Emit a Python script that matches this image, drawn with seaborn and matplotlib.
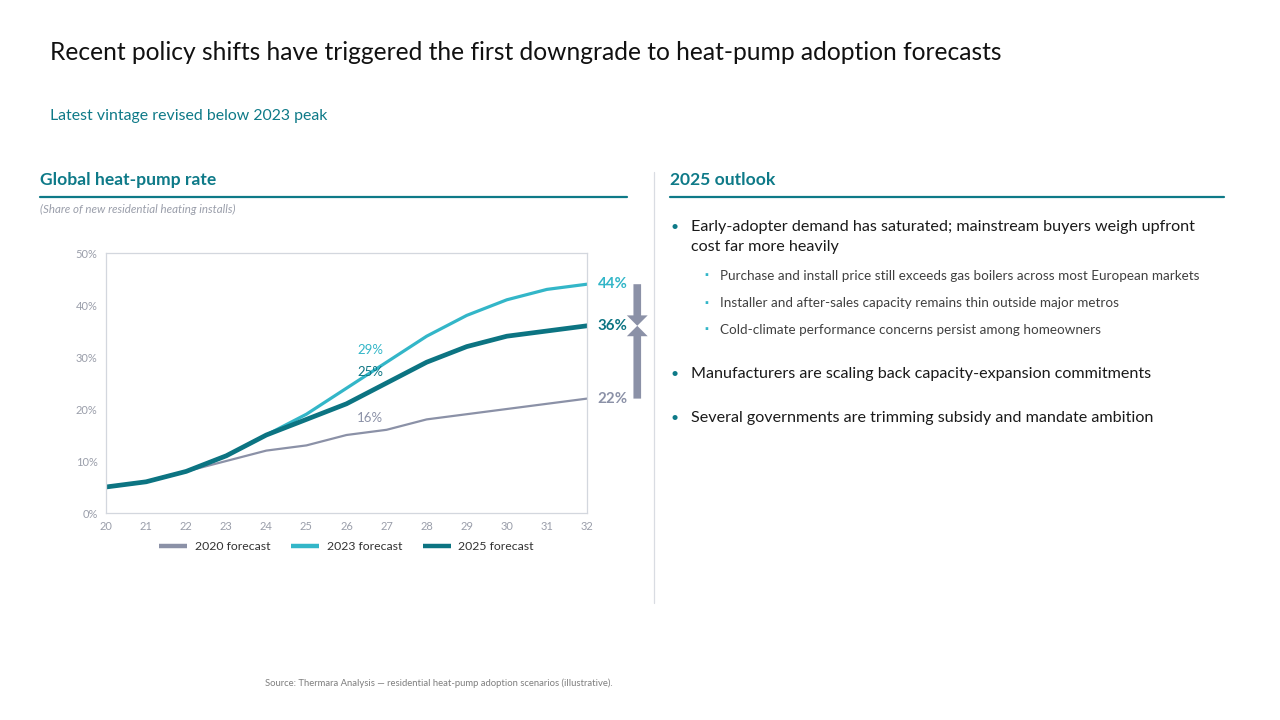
import matplotlib
matplotlib.use("Agg")
import matplotlib.pyplot as plt
import seaborn as sns
import pandas as pd

# data
years = [20, 21, 22, 23, 24, 25, 26, 27, 28, 29, 30, 31, 32]
f2020 = [5, 6, 8, 10, 12, 13, 15, 16, 18, 19, 20, 21, 22]
f2023 = [5, 6, 8, 11, 15, 19, 24, 29, 34, 38, 41, 43, 44]
f2025 = [5, 6, 8, 11, 15, 18, 21, 25, 29, 32, 34, 35, 36]
series_names = ["2020 forecast", "2023 forecast", "2025 forecast"]
y_ticks = [0, 10, 20, 30, 40, 50]

GRAY = "#8B91A7"
LIGHT = "#33B6C8"
DARK = "#0C7482"
TEAL_HEAD = "#0E7A88"

sns.set_theme(style="white")
plt.rcParams["font.family"] = ["Lato", "DejaVu Sans"]

df = pd.DataFrame({
    "year": years * 3,
    "value": f2020 + f2023 + f2025,
    "series": [n for n in series_names for _ in years],
})

fig = plt.figure(figsize=(12.8, 7.2), dpi=100)
fig.patch.set_facecolor("white")


def y(px):
    return 1 - px / 720


# titles
fig.text(50 / 1280, y(52), "Recent policy shifts have triggered the first downgrade to heat-pump adoption forecasts",
         fontsize=17.7, color="#111111", va="center", ha="left")
fig.text(50 / 1280, y(116), "Latest vintage revised below 2023 peak",
         fontsize=11.4, color=TEAL_HEAD, va="center", ha="left")

# section headers
fig.text(40 / 1280, y(180), "Global heat-pump rate", fontsize=12.6, fontweight="bold",
         color=TEAL_HEAD, va="center", ha="left")
fig.text(670 / 1280, y(180), "2025 outlook", fontsize=12.6, fontweight="bold",
         color=TEAL_HEAD, va="center", ha="left")
fig.add_artist(plt.Line2D([40 / 1280, 627 / 1280], [y(197)] * 2, color=TEAL_HEAD, lw=1.6))
fig.add_artist(plt.Line2D([670 / 1280, 1224 / 1280], [y(197)] * 2, color=TEAL_HEAD, lw=1.6))
fig.add_artist(plt.Line2D([654 / 1280] * 2, [y(172), y(603)], color="#D9DCE2", lw=0.9))
fig.text(40 / 1280, y(209), "(Share of new residential heating installs)", fontsize=8.3,
         style="italic", color="#9A9EAA", va="center", ha="left")

# chart
ax = fig.add_axes([106 / 1280, y(513), 481 / 1280, 260 / 720])
widths = {"2020 forecast": 1.6, "2023 forecast": 2.3, "2025 forecast": 3.4}
palette = {"2020 forecast": GRAY, "2023 forecast": LIGHT, "2025 forecast": DARK}
for name in series_names:
    sub = df[df["series"] == name]
    sns.lineplot(data=sub, x="year", y="value", color=palette[name], lw=widths[name],
                 label=name, ax=ax, solid_capstyle="round")

ax.set_xlim(years[0], years[-1])
ax.set_ylim(0, 50)
ax.set_xticks(years)
ax.set_xticklabels([str(v) for v in years])
ax.set_yticks(y_ticks)
ax.set_yticklabels([f"{t}%" for t in y_ticks])
ax.set_xlabel("")
ax.set_ylabel("")
ax.tick_params(axis="both", labelsize=8, colors="#9A9EAA", length=0, pad=6)
for s in ax.spines.values():
    s.set_color("#D3D7DE")
    s.set_linewidth(0.9)

# mid-chart labels near 2027
mid = years.index(27)
ax.annotate(f"{f2023[mid]}%", (years[mid], f2023[mid]), xytext=(-2.5, 8.8), textcoords="offset points",
            ha="right", va="center", color=LIGHT, fontsize=9.5)
ax.annotate(f"{f2025[mid]}%", (years[mid], f2025[mid]), xytext=(-2.5, 8), textcoords="offset points",
            ha="right", va="center", color=DARK, fontsize=9.5)
ax.annotate(f"{f2020[mid]}%", (years[mid], f2020[mid]), xytext=(-2.5, 8.6), textcoords="offset points",
            ha="right", va="center", color=GRAY, fontsize=9.5)

# end labels
for vals, col in [(f2023, LIGHT), (f2025, DARK), (f2020, GRAY)]:
    ax.annotate(f"{vals[-1]}%", (years[-1], vals[-1]), xytext=(7.5, 0), textcoords="offset points",
                ha="left", va="center", color=col, fontsize=10.8, fontweight="bold", annotation_clip=False)

# gap arrows (2023 -> 2025 and 2020 -> 2025), filled shapes
for start in (f2023[-1], f2020[-1]):
    ax.annotate("", xy=(1.1045, f2025[-1]), xytext=(1.1045, start),
                xycoords=("axes fraction", "data"), textcoords=("axes fraction", "data"),
                arrowprops=dict(arrowstyle="simple,head_length=0.75,head_width=1.5,tail_width=0.55",
                                fc=GRAY, ec="none", lw=0, mutation_scale=10, shrinkA=0, shrinkB=0),
                annotation_clip=False)

leg = ax.legend(loc="upper center", bbox_to_anchor=(0.5, -0.065), ncol=3, frameon=False,
                fontsize=8.8, handlelength=2.3, columnspacing=1.7, handletextpad=0.6)
for t in leg.get_texts():
    t.set_color("#333333")
for h in leg.get_lines():
    h.set_linewidth(3.2)
    h.set_solid_capstyle("butt")

# bullets
bx, tx = 671 / 1280, 691 / 1280
sbx, stx = 704 / 1280, 720 / 1280

fig.text(bx, y(227), "•", fontsize=10, color=TEAL_HEAD, va="center")
fig.text(tx, y(227), "Early-adopter demand has saturated; mainstream buyers weigh upfront", fontsize=11.65,
         color="#1A1A1A", va="center")
fig.text(tx, y(247), "cost far more heavily", fontsize=11.65, color="#1A1A1A", va="center")
subs = ["Purchase and install price still exceeds gas boilers across most European markets",
        "Installer and after-sales capacity remains thin outside major metros",
        "Cold-climate performance concerns persist among homeowners"]
for py, s in zip([276, 303, 330], subs):
    fig.text(sbx, y(py), "▪", fontsize=7, color=LIGHT, va="center")
    fig.text(stx, y(py), s, fontsize=9.7, color="#404040", va="center")
for py, s in zip([374, 418], ["Manufacturers are scaling back capacity-expansion commitments",
                              "Several governments are trimming subsidy and mandate ambition"]):
    fig.text(bx, y(py), "•", fontsize=10, color=TEAL_HEAD, va="center")
    fig.text(tx, y(py), s, fontsize=11.65, color="#1A1A1A", va="center")

fig.text(265 / 1280, y(683), "Source: Thermara Analysis — residential heat-pump adoption scenarios (illustrative).",
         fontsize=6.85, color="#7F7F7F", va="center")

fig.savefig("out.png", dpi=100, facecolor="white")
